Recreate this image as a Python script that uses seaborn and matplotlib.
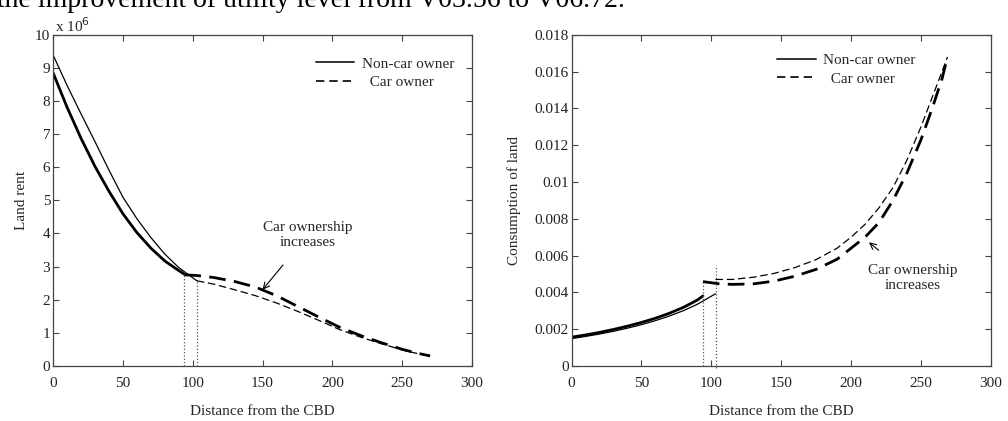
import matplotlib
matplotlib.use("Agg")
import matplotlib.pyplot as plt
import seaborn as sns
import pandas as pd

# left panel: land rent (x 10^6)
rent_nc_new_x = [0, 10, 20, 30, 40, 50, 60, 70, 80, 90, 94]
rent_nc_new_y = [8.86, 7.82, 6.88, 6.03, 5.28, 4.6, 4.03, 3.56, 3.17, 2.88, 2.77]
rent_nc_old_x = [0, 10, 20, 30, 40, 50, 60, 70, 80, 90, 103]
rent_nc_old_y = [9.4, 8.48, 7.62, 6.78, 5.92, 5.1, 4.45, 3.88, 3.38, 2.97, 2.57]
rent_c_new_x = [94, 103, 115, 130, 145, 160, 175, 190, 205, 220, 235, 250, 260, 270]
rent_c_new_y = [2.75, 2.73, 2.67, 2.55, 2.38, 2.12, 1.8, 1.48, 1.17, 0.92, 0.7, 0.5, 0.39, 0.3]
rent_c_old_x = [103, 115, 130, 145, 160, 175, 190, 205, 220, 235, 250, 260, 270]
rent_c_old_y = [2.57, 2.47, 2.3, 2.12, 1.9, 1.65, 1.38, 1.1, 0.87, 0.67, 0.48, 0.38, 0.3]

# right panel: consumption of land
land_nc_new_x = [0, 10, 20, 30, 40, 50, 60, 70, 80, 90, 94]
land_nc_new_y = [0.00156, 0.00168, 0.00182, 0.00198, 0.00216, 0.00236, 0.00259,
                 0.00286, 0.00318, 0.00358, 0.0038]
land_nc_old_x = [0, 10, 20, 30, 40, 50, 60, 70, 80, 90, 103]
land_nc_old_y = [0.00148, 0.0016, 0.00173, 0.00188, 0.00205, 0.00224, 0.00246,
                 0.00271, 0.003, 0.00335, 0.00392]
land_c_new_x = [94, 105, 115, 130, 145, 160, 175, 190, 200, 210, 220, 230, 240,
                250, 258, 265, 268]
land_c_new_y = [0.00458, 0.00447, 0.00443, 0.00446, 0.00461, 0.00488, 0.00525,
                0.0058, 0.0064, 0.007, 0.0078, 0.009, 0.0105, 0.0123, 0.014,
                0.0156, 0.0165]
land_c_old_x = [103, 115, 130, 145, 160, 175, 190, 200, 210, 220, 230, 240, 250,
                258, 265, 269]
land_c_old_y = [0.0047, 0.0047, 0.00482, 0.00503, 0.00535, 0.00578, 0.0064, 0.007,
                0.0077, 0.0086, 0.0097, 0.0112, 0.013, 0.0146, 0.016, 0.0168]

xticks = [0, 50, 100, 150, 200, 250, 300]
rent_ticks = list(range(0, 11))
land_ticks = [0, 0.002, 0.004, 0.006, 0.008, 0.01, 0.012, 0.014, 0.016, 0.018]
land_labels = ["0", "0.002", "0.004", "0.006", "0.008", "0.01", "0.012", "0.014",
               "0.016", "0.018"]

sns.set_style("ticks")
plt.rcParams["font.family"] = ["Liberation Serif", "DejaVu Serif"]
plt.rcParams["axes.edgecolor"] = "#444444"
plt.rcParams["xtick.color"] = "#444444"
plt.rcParams["ytick.color"] = "#444444"
plt.rcParams["xtick.labelcolor"] = "#222222"
plt.rcParams["ytick.labelcolor"] = "#222222"

FS = 11

fig = plt.figure(figsize=(10.08, 4.21), dpi=100)
ax1 = fig.add_axes([0.0526, 0.131, 0.4157, 0.786])
ax2 = fig.add_axes([0.567, 0.131, 0.416, 0.786])

# clipped line of running text above the figure
fig.text(-0.003, 0.984, "the improvement of utility level from V03.56 to V06.72.",
         fontsize=20, va="baseline", ha="left", color="black")


def draw(ax, x, y, lw, ls):
    df = pd.DataFrame({"x": x, "y": y})
    sns.lineplot(data=df, x="x", y="y", ax=ax, color="black", linewidth=lw,
                 linestyle=ls, sort=False, estimator=None)


# left
draw(ax1, rent_nc_old_x, rent_nc_old_y, 0.9, "-")
draw(ax1, rent_nc_new_x, rent_nc_new_y, 2.0, "-")
draw(ax1, rent_c_old_x, rent_c_old_y, 0.9, (0, (6, 3)))
draw(ax1, rent_c_new_x, rent_c_new_y, 2.0, (0, (6, 3)))
ax1.plot([rent_nc_new_x[-1]] * 2, [0, rent_nc_new_y[-1]], ls=":", color="#555555", lw=0.9)
ax1.plot([rent_nc_old_x[-1]] * 2, [0, rent_nc_old_y[-1]], ls=":", color="#555555", lw=0.9)
ax1.annotate("Car ownership\nincreases", xy=(150, 2.3), xytext=(182.5, 3.96),
             ha="center", va="center", fontsize=FS, linespacing=1.2,
             arrowprops=dict(arrowstyle="->", color="black", lw=0.8,
                             shrinkA=12, shrinkB=0))
ax1.set_xlim(0, 300)
ax1.set_ylim(0, 10)
ax1.set_yticks(rent_ticks)
ax1.set_ylabel("Land rent", fontsize=FS, labelpad=5)
ax1.text(0.005, 1.01, r"x 10$^{6}$", transform=ax1.transAxes, fontsize=FS,
         ha="left", va="baseline")

# right
draw(ax2, land_nc_old_x, land_nc_old_y, 0.9, "-")
draw(ax2, land_nc_new_x, land_nc_new_y, 2.0, "-")
draw(ax2, land_c_old_x, land_c_old_y, 0.9, (0, (6, 3)))
draw(ax2, land_c_new_x, land_c_new_y, 2.0, (0, (6, 3)))
ax2.plot([land_nc_new_x[-1]] * 2, [0, land_c_new_y[0]], ls=":", color="#555555", lw=0.9)
ax2.plot([land_nc_old_x[-1]] * 2, [-0.0001, 0.0055], ls=":", color="#555555", lw=0.9,
         clip_on=False)
ax2.annotate("Car ownership\nincreases", xy=(212.8, 0.00672), xytext=(244, 0.00477),
             ha="center", va="center", fontsize=FS, linespacing=1.2,
             arrowprops=dict(arrowstyle="->", color="black", lw=0.8,
                             shrinkA=12, shrinkB=0))
ax2.set_xlim(0, 300)
ax2.set_ylim(0, 0.018)
ax2.set_yticks(land_ticks)
ax2.set_yticklabels(land_labels)
ax2.set_ylabel("Consumption of land", fontsize=FS, labelpad=10)

legend_pos = {ax1: (0.594, 0.975), ax2: (0.458, 0.985)}
for ax in (ax1, ax2):
    ax.set_xticks(xticks)
    ax.set_xlabel("Distance from the CBD", fontsize=FS, labelpad=11)
    ax.tick_params(direction="in", top=True, right=True, length=4, width=0.8,
                   labelsize=FS)
    ax.tick_params(axis="x", pad=8)
    ax.tick_params(axis="y", pad=2)
    for s in ax.spines.values():
        s.set_visible(True)
        s.set_linewidth(0.9)
    h1, = ax.plot([], [], color="#333333", lw=1.4, ls="-")
    h2, = ax.plot([], [], color="black", lw=1.2, ls=(0, (5, 3)))
    ax.legend([h1, h2], ["Non-car owner", "  Car owner"], loc="upper left",
              bbox_to_anchor=legend_pos[ax], frameon=False, fontsize=FS,
              handlelength=2.5, handletextpad=0.5, labelspacing=0.3)

fig.savefig("out.png", dpi=100)
